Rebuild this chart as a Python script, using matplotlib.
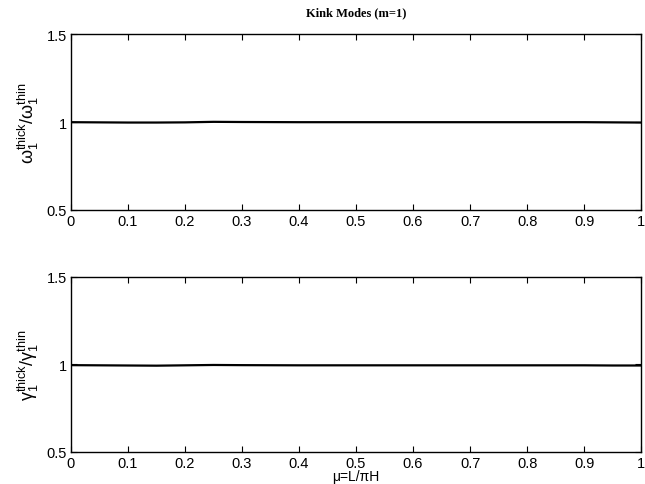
import matplotlib
matplotlib.use('Agg')
import matplotlib.pyplot as plt
import numpy as np

plt.rcParams['font.family'] = ['Liberation Sans', 'DejaVu Sans']
plt.rcParams['mathtext.fontset'] = 'custom'
plt.rcParams['mathtext.rm'] = 'Liberation Sans'
plt.rcParams['mathtext.it'] = 'Liberation Sans'

# ratio of thick to thin kink-mode values vs mu
mu = [0.0, 0.05, 0.1, 0.15, 0.2, 0.25, 0.3, 0.4, 0.5, 0.6, 0.7, 0.8, 0.9, 0.95, 1.0]
omega_ratio = [1.0, 0.999, 0.998, 0.998, 0.999, 1.002, 1.001, 1.0, 1.0, 1.0, 1.0, 1.0, 1.0, 0.999, 0.998]
gamma_ratio = [0.996, 0.995, 0.994, 0.993, 0.995, 0.997, 0.996, 0.995, 0.995, 0.995, 0.995, 0.995, 0.995, 0.994, 0.994]

xticks = [0, 0.1, 0.2, 0.3, 0.4, 0.5, 0.6, 0.7, 0.8, 0.9, 1]
xticklabels = ['0', '0.1', '0.2', '0.3', '0.4', '0.5', '0.6', '0.7', '0.8', '0.9', '1']
yticks = [0.5, 1, 1.5]
yticklabels = ['0.5', '1', '1.5']

fig = plt.figure(figsize=(6.45, 4.85), dpi=100)
ax1 = fig.add_axes([0.110, 0.565, 0.884, 0.362])
ax2 = fig.add_axes([0.110, 0.066, 0.884, 0.361])

for ax, y in [(ax1, omega_ratio), (ax2, gamma_ratio)]:
    ax.plot(mu, y, color='black', lw=1.6)
    ax.set_xlim(0, 1)
    ax.set_ylim(0.5, 1.5)
    ax.set_xticks(xticks)
    ax.set_xticklabels(xticklabels)
    ax.set_yticks(yticks)
    ax.set_yticklabels(yticklabels)
    ax.tick_params(direction='in', length=4, width=0.8, top=True, right=True,
                   labelsize=10.5, pad=3)
    for s in ax.spines.values():
        s.set_linewidth(1.0)

ax1.set_title('Kink Modes (m=1)', fontfamily='Liberation Serif', fontweight='bold',
              fontsize=9, pad=14)
ax1.set_ylabel(r'$\mathrm{ω}_1^{\mathrm{thick}}/\mathrm{ω}_1^{\mathrm{thin}}$', fontsize=13, labelpad=4)
ax2.set_ylabel(r'$\mathrm{γ}_1^{\mathrm{thick}}/\mathrm{γ}_1^{\mathrm{thin}}$', fontsize=13, labelpad=4)
ax2.set_xlabel('μ=L/πH', fontsize=10, labelpad=-1)

fig.savefig('out.png', dpi=100)
